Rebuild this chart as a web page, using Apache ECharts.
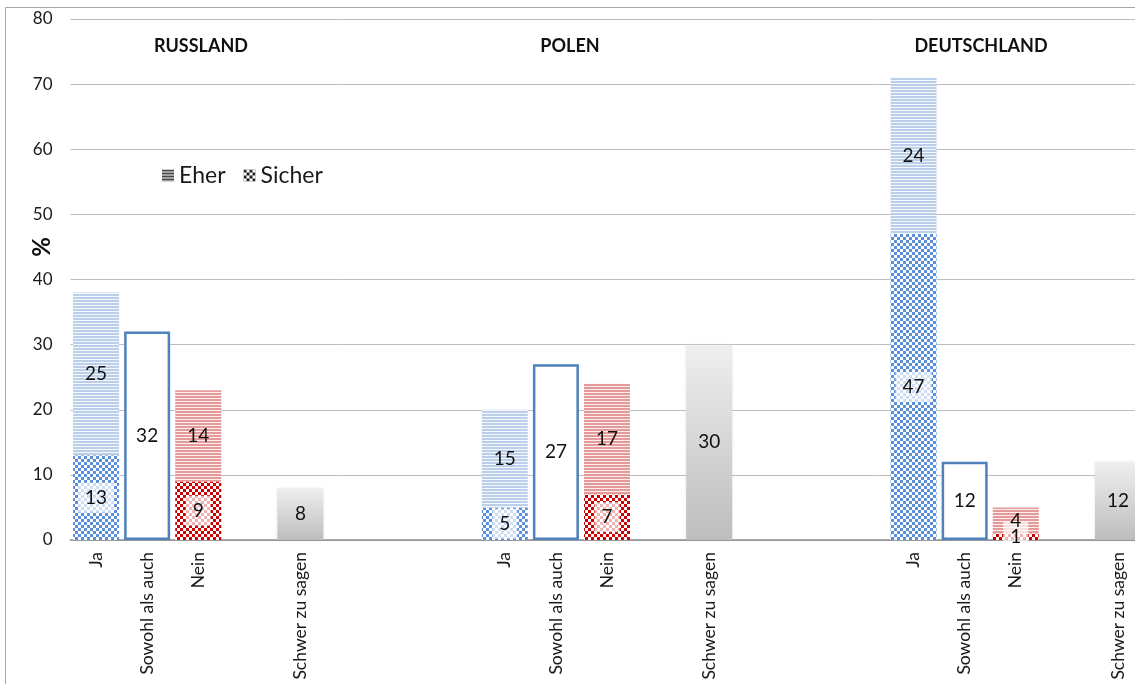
<!DOCTYPE html>
<html>
<head>
<meta charset="utf-8">
<script src="https://cdn.jsdelivr.net/npm/echarts@6/dist/echarts.min.js"></script>
<style>
html,body{margin:0;padding:0;background:#fff;overflow:hidden;width:1135px;height:684px;}
#chart{width:1150px;height:684px;}
</style>
</head>
<body>
<div id="chart"></div>
<script>
// ---- data ----
const categories = ['Ja','Sowohl als auch','Nein','','Schwer zu sagen','','','',
                    'Ja','Sowohl als auch','Nein','','Schwer zu sagen','','','',
                    'Ja','Sowohl als auch','Nein','','Schwer zu sagen'];
const sicher = [13,null,9,null,null,null,null,null, 5,null,7,null,null,null,null,null, 47,null,1,null,null];
const eher   = [25,null,14,null,null,null,null,null, 15,null,17,null,null,null,null,null, 24,null,4,null,null];
const sowohl = [null,32,null,null,null,null,null,null, null,27,null,null,null,null,null,null, null,12,null,null,null];
const schwer = [null,null,null,null,8,null,null,null, null,null,null,null,30,null,null,null, null,null,null,null,12];
const countries = ['RUSSLAND','POLEN','DEUTSCHLAND'];
const yMin = 0, yMax = 80, yInterval = 10;

// ---- patterns ----
function stripes(color, bg){
  const c = document.createElement('canvas'); c.width = 4; c.height = 3;
  const g = c.getContext('2d');
  g.fillStyle = bg; g.fillRect(0,0,4,3);
  g.fillStyle = color; g.fillRect(0,0,4,2);
  return {image:c, repeat:'repeat'};
}
function checker(color){
  const c = document.createElement('canvas'); c.width = 6; c.height = 6;
  const g = c.getContext('2d');
  g.fillStyle = '#ffffff'; g.fillRect(0,0,6,6);
  g.fillStyle = color; g.fillRect(0,0,3,3); g.fillRect(3,3,3,3);
  return {image:c, repeat:'repeat'};
}
const pat = {
  eherJa: stripes('#bccfea','#f4f7fc'),
  eherNein: stripes('#e59a9a','#fbeeee'),
  sicherJa: checker('#5a8fdc'),
  sicherNein: checker('#cc0000'),
  eherLegend: stripes('#444444','#ffffff'),
  sicherLegend: checker('#222222')
};

function colored(arr, kind){
  return arr.map((v,i)=>{
    if (v === null) return null;
    const cat = categories[i];
    const key = kind + (cat === 'Ja' ? 'Ja' : 'Nein');
    return {value:v, itemStyle:{color:pat[key]}};
  });
}

const FONT = 'Lato, "Open Sans", sans-serif';
const chart = echarts.init(document.getElementById('chart'), null, {renderer:'canvas'});

const option = {
  animation:false,
  backgroundColor:'#ffffff',
  textStyle:{fontFamily:FONT},
  grid:{left:70.5, width:1073, top:19, height:521, containLabel:false},
  legend:{
    left:157, top:159, itemWidth:12, itemHeight:12, itemGap:18,
    icon:'rect',
    textStyle:{fontFamily:FONT, fontSize:23, color:'#1a1a1a'},
    data:['Eher','Sicher']
  },
  xAxis:{
    type:'category', data:categories,
    axisTick:{show:false},
    axisLine:{lineStyle:{color:'#8f8f8f', width:1.5}},
    axisLabel:{interval:0, rotate:90, margin:12, fontSize:17.5, color:'#1a1a1a', fontFamily:FONT}
  },
  yAxis:{
    type:'value', min:yMin, max:yMax, interval:yInterval,
    axisLine:{show:false}, axisTick:{show:false},
    axisLabel:{margin:18, fontSize:17, color:'#1a1a1a', fontFamily:FONT},
    splitLine:{lineStyle:{color:'#bdbdbd', width:1}}
  },
  series:[
    {
      name:'Sicher', type:'bar', stack:'a', barWidth:46,
      itemStyle:{color:pat.sicherLegend},
      data:colored(sicher,'sicher'),
      label:{show:true, position:'inside', fontSize:19, color:'#111', fontFamily:FONT,
             backgroundColor:'rgba(255,255,255,0.7)', padding:[6,7,5,7]},
      z:2
    },
    {
      name:'Eher', type:'bar', stack:'a', barWidth:46,
      itemStyle:{color:pat.eherLegend},
      data:colored(eher,'eher'),
      label:{show:true, position:'inside', fontSize:19, color:'#111', fontFamily:FONT},
      z:2
    },
    {
      name:'Sowohl', type:'bar', stack:'a', barWidth:45,
      itemStyle:{color:'#ffffff', borderColor:'#4f81bd', borderWidth:2.5},
      data:sowohl,
      label:{show:true, position:'inside', fontSize:19, color:'#111', fontFamily:FONT},
      z:3
    },
    {
      name:'Schwer', type:'bar', stack:'a', barWidth:46,
      itemStyle:{
        color:{type:'linear', x:0, y:0, x2:0, y2:1, colorStops:[
          {offset:0, color:'#efefef'}, {offset:1, color:'#bdbdbd'}]},
        shadowBlur:3, shadowColor:'rgba(0,0,0,0.12)'
      },
      data:schwer,
      label:{show:true, position:'inside', fontSize:19, color:'#111', fontFamily:FONT},
      z:2
    }
  ],
  graphic:[
    {type:'rect', silent:true, z:-1, shape:{x:5.5, y:7.5, width:1200, height:720},
     style:{fill:'none', stroke:'#a6a6a6', lineWidth:1}},
    {type:'text', x:42, y:247, rotation:Math.PI/2, silent:true,
     style:{text:'%', font:'bold 24px '+FONT, fill:'#111', align:'center', verticalAlign:'middle'}},
    {type:'text', x:201, y:46, silent:true,
     style:{text:countries[0], font:'bold 18px '+FONT, fill:'#111', align:'center', verticalAlign:'middle'}},
    {type:'text', x:570, y:46, silent:true,
     style:{text:countries[1], font:'bold 18px '+FONT, fill:'#111', align:'center', verticalAlign:'middle'}},
    {type:'text', x:981, y:46, silent:true,
     style:{text:countries[2], font:'bold 18px '+FONT, fill:'#111', align:'center', verticalAlign:'middle'}}
  ]
};
chart.setOption(option);
</script>
</body>
</html>
